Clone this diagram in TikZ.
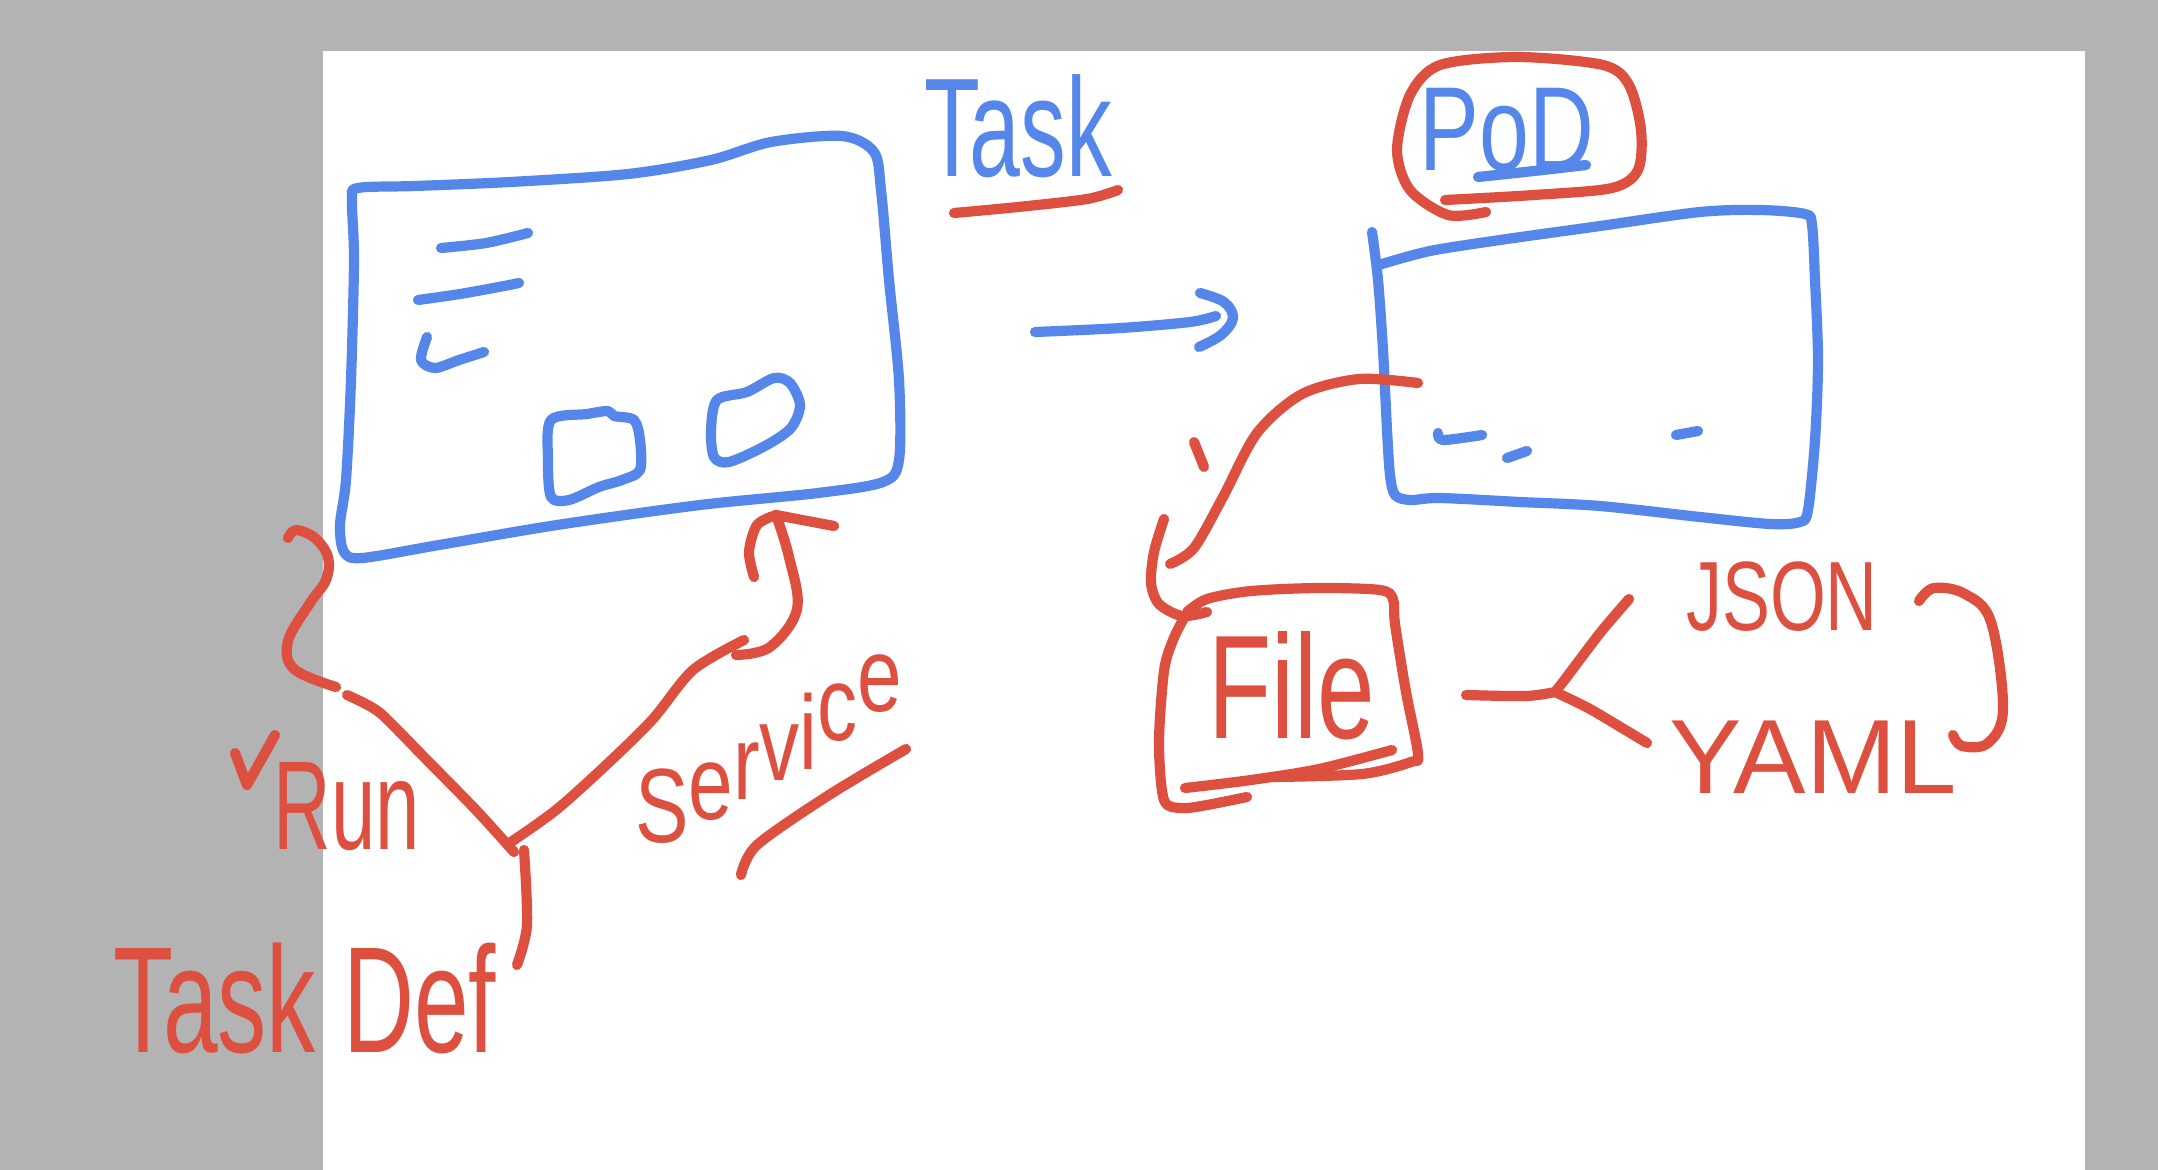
\documentclass[tikz,border=0pt]{standalone}
\usepackage{fontspec}
\setmainfont{Liberation Sans}
\definecolor{pen}{HTML}{5587EB}
\definecolor{ink}{HTML}{DD5040}
\definecolor{bgg}{HTML}{B3B3B3}
\begin{document}
\begin{tikzpicture}[x=0.01cm,y=-0.01cm,
  bl/.style={draw=pen,line width=2.9pt,line cap=round,line join=round},
  rd/.style={draw=ink,line width=2.9pt,line cap=round,line join=round},
  hw/.style={inner sep=0pt,outer sep=0pt}]
\useasboundingbox (0,0) rectangle (2158,1170);
\fill[bgg] (0,0) rectangle (2158,1170);
\fill[white] (323,51) rectangle (2085,1170);

% ---------- Task box (left) ----------
\draw[bl] plot[smooth cycle,tension=0.5] coordinates {(358,188) (415,186) (510,182) (628,174) (711,160) (771,142) (842,136) (874,152) (881,190) (889,280) (899,380) (899,460) (883,482) (818,493) (700,505) (557,525) (439,545) (362,558) (344,552) (340,525) (346,480) (351,380) (354,260) (352,200)};
\draw[bl] plot[smooth,tension=0.5] coordinates {(441,248) (486,243) (528,233)};
\draw[bl] plot[smooth,tension=0.5] coordinates {(418,300) (460,294) (504,286) (519,283)};
\draw[bl] plot[smooth,tension=0.5] coordinates {(427,337) (421,360) (435,368) (459,360) (484,352)};
\draw[bl] plot[smooth cycle,tension=0.5] coordinates {(551,420) (587,414) (608,411) (614,416) (634,420) (640,440) (640,470) (622,480) (599,487) (569,500) (551,497) (548,460)};
\draw[bl] plot[smooth cycle,tension=0.5] coordinates {(717,400) (747,392) (774,378) (790,383) (800,405) (791,428) (765,446) (729,462) (714,457) (711,430)};

% ---------- Task label ----------
\node[hw,text=pen,font=\fontsize{40}{40}\selectfont,xscale=0.65] (task) at (1018,126) {Task};
\draw[rd] plot[smooth,tension=0.5] coordinates {(954,213) (1018,207) (1087,199) (1118,190)};

% ---------- arrow Task -> Pod ----------
\coordinate (arA) at (1035,332);
\coordinate (arB) at (1216,316);
\draw[bl] plot[smooth,tension=0.5] coordinates {(arA) (1121,328) (1190,322) (arB)};
\draw[bl] plot[smooth,tension=0.6] coordinates {(1200,293) (1224,302) (1233,318) (1221,335) (1199,347)};

% ---------- Pod label ----------
\node[hw,text=pen,font=\fontsize{34}{34}\selectfont,xscale=0.75] (pod) at (1507,130) {PoD};
\draw[bl] plot[smooth,tension=0.5] coordinates {(1478,177) (1534,171) (1586,165)};
\draw[rd] plot[smooth,tension=0.5] coordinates {(1445,200) (1534,195) (1612,188) (1638,170) (1641,130) (1629,85) (1603,65) (1517,57) (1440,65) (1410,95) (1397,150) (1410,190) (1448,215) (1486,212)};

% ---------- Pod box (right) ----------
\draw[bl] plot[smooth,tension=0.5] coordinates {(1372,232) (1378,280) (1383,350) (1387,430) (1390,475) (1395,495) (1410,500) (1440,498) (1520,502) (1600,506) (1700,517) (1770,524) (1800,522) (1808,510) (1815,440) (1818,360) (1815,280) (1812,225) (1805,214) (1760,210) (1700,212) (1600,226) (1500,240) (1430,251) (1382,264)};
\draw[bl] plot[smooth,tension=0.5] coordinates {(1438,433) (1443,440) (1482,435)};
\draw[bl] (1507,458) -- (1527,451);
\draw[bl] (1676,435) -- (1698,431);

% ---------- File ----------
\node[hw,text=ink,font=\fontsize{42}{42}\selectfont,xscale=0.70] (file) at (1292,686) {File};
\draw[rd] plot[smooth,tension=0.5] coordinates {(1418,383) (1359,379) (1302,394) (1257,433) (1223,497) (1194,548) (1170,564)};
\draw[rd] (1194,442) -- (1204,467);
\draw[rd] plot[smooth,tension=0.5] coordinates {(1164,519) (1154,552) (1151,583) (1159,604) (1182,616) (1207,612)};
\draw[rd] plot[smooth,tension=0.5] coordinates {(1187,612) (1207,599) (1251,591) (1319,588) (1380,590) (1393,599) (1395,624) (1406,692) (1418,754) (1411,762) (1362,774) (1273,777)};
\draw[rd] plot[smooth,tension=0.5] coordinates {(1247,797) (1207,805) (1182,808) (1164,800) (1159,743) (1164,671) (1173,640) (1185,616)};
\draw[rd] plot[smooth,tension=0.5] coordinates {(1185,788) (1251,780) (1319,769) (1392,750)};

% ---------- JSON / YAML ----------
\node[hw,text=ink,font=\fontsize{28}{28}\selectfont,xscale=0.73] (json) at (1782,597) {JSON};
\node[hw,text=ink,font=\fontsize{30}{30}\selectfont,xscale=1.03] (yaml) at (1813,757) {YAML};
\coordinate (fork) at (1555,692);
\draw[rd] plot[smooth,tension=0.5] coordinates {(1466,695) (1526,696) (fork)};
\draw[rd] plot[smooth,tension=0.4] coordinates {(fork) (1566,678) (1600,633) (1629,599)};
\draw[rd] plot[smooth,tension=0.4] coordinates {(fork) (1590,709) (1647,743)};
\draw[rd] plot[smooth,tension=0.6] coordinates {(1919,601) (1934,588) (1965,594) (1991,622) (2003,709) (1988,743) (1962,746) (1953,735)};

% ---------- left: Run / Service / Task Def ----------
\draw[rd] plot[smooth,tension=0.6] coordinates {(288,538) (296,530) (315,538) (328,557) (326,580) (310,603) (288,641) (294,669) (336,687)};
\coordinate (tdtop) at (514,852);
\draw[rd] plot[smooth,tension=0.4] coordinates {(347,695) (379,712) (423,756) (476,810) (tdtop)};
\draw[rd] plot[smooth,tension=0.5] coordinates {(511,842) (556,810) (604,767) (652,720) (693,670) (744,640)};
\draw[rd] plot[smooth,tension=0.6] coordinates {(736,655) (770,647) (797,609) (789,557) (776,515)};
\draw[rd] plot[smooth,tension=0.5] coordinates {(754,577) (749,552) (757,525) (776,515)};
\draw[rd] (776,515) -- (834,526);
\draw[rd] plot[smooth,tension=0.5] coordinates {(524,850) (527,925) (517,965)};
\draw[rd] (235,753) -- (247,785) -- (275,735);
\node[hw,text=ink,font=\fontsize{36}{36}\selectfont,xscale=0.63] (run) at (347,807) {Run};
\node[hw,text=ink,font=\fontsize{30}{30}\selectfont,xscale=0.76,anchor=base west] (service) at (635,842) {S\raisebox{6.3pt}{e}\raisebox{12pt}{r}\raisebox{17.6pt}{v}\raisebox{20.5pt}{i}\raisebox{29pt}{c}\raisebox{37pt}{e}};
\draw[rd] plot[smooth,tension=0.5] coordinates {(906,749) (829,795) (757,845) (741,875)};
\node[hw,text=ink,font=\fontsize{43}{43}\selectfont,xscale=0.65] (taskdef) at (305,998) {Task Def};
\end{tikzpicture}
\end{document}
